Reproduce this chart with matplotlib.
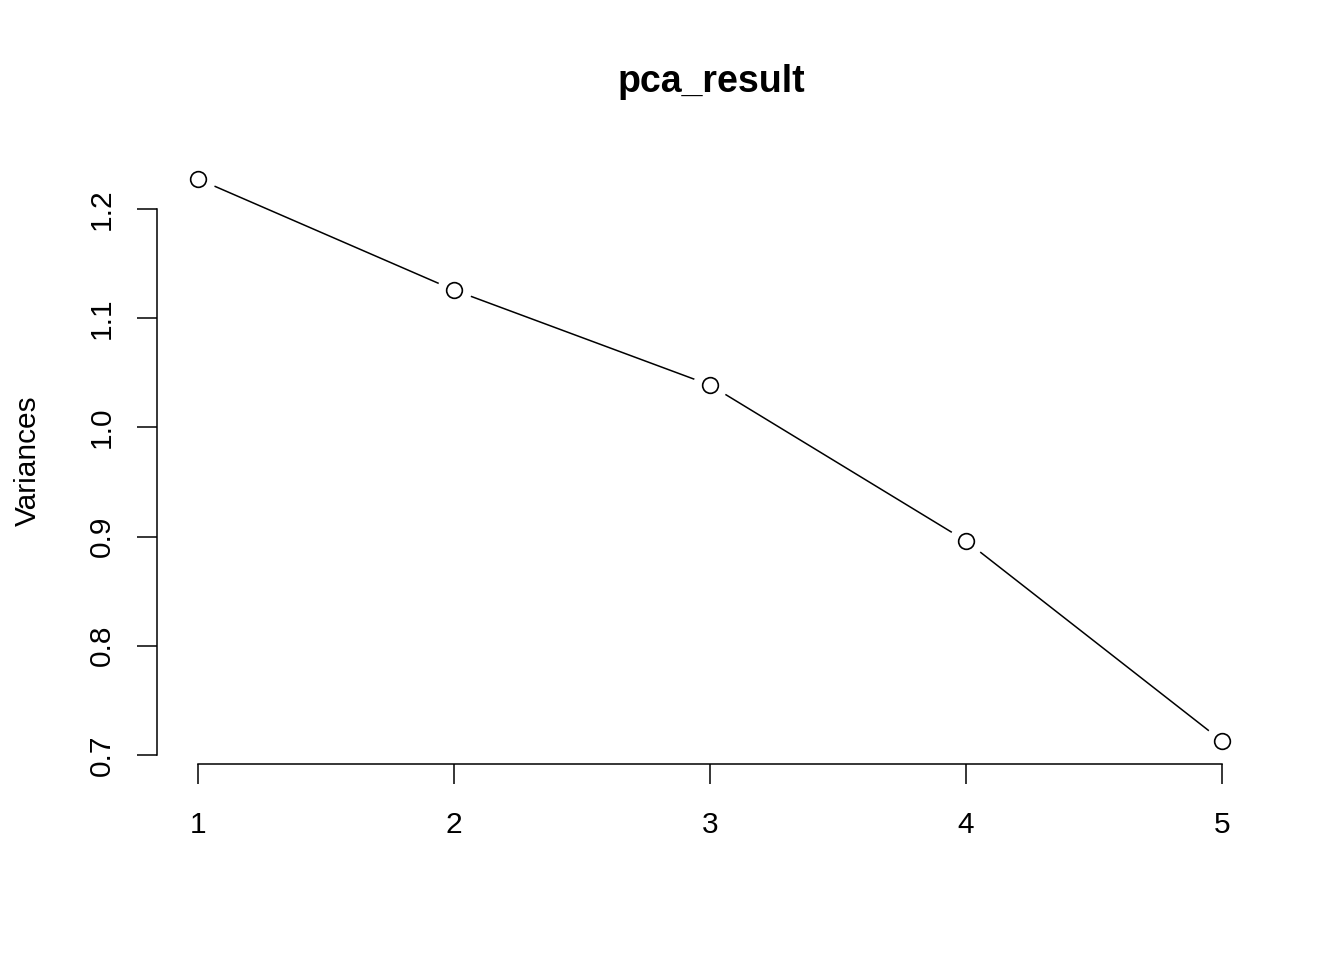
import matplotlib
matplotlib.use("Agg")
import matplotlib.pyplot as plt

components = [1, 2, 3, 4, 5]
variances = [1.2275, 1.1258, 1.0388, 0.8960, 0.7128]
yticks = [0.7, 0.8, 0.9, 1.0, 1.1, 1.2]
ytick_labels = ["0.7", "0.8", "0.9", "1.0", "1.1", "1.2"]
title = "pca_result"
ylabel = "Variances"

plt.rcParams['font.family'] = ['Liberation Sans', 'DejaVu Sans']

fig = plt.figure(figsize=(13.44, 9.6), dpi=100)
ax = fig.add_axes([157/1344, 1-763.5/960, (1263-157)/1344, (763.5-156.5)/960])

ax.plot(components, variances, color='black', lw=1.1, zorder=1)
ax.plot(components, variances, 'o', ms=24, mfc='white', mec='white', zorder=2)
ax.plot(components, variances, 'o', ms=11.3, mfc='white', mec='black', mew=1.2, zorder=3)

rng = max(variances) - min(variances)
ax.set_xlim(1 - 0.04*4, 5 + 0.04*4)
ax.set_ylim(min(variances) - 0.04*rng, max(variances) + 0.04*rng)

for s in ['top', 'right']:
    ax.spines[s].set_visible(False)
ax.spines['left'].set_bounds(0.7, 1.2)
ax.spines['bottom'].set_bounds(1, 5)
for s in ['left', 'bottom']:
    ax.spines[s].set_linewidth(1.1)

ax.set_xticks(components)
ax.set_xticklabels([str(c) for c in components])
ax.set_yticks(yticks)
ax.set_yticklabels(ytick_labels, rotation=90, va='center')
ax.tick_params(axis='both', direction='out', length=14.4, width=1.1, labelsize=21.5)
ax.tick_params(axis='x', pad=20)
ax.tick_params(axis='y', pad=15)

fig.text(711/1344, 1-92/960, title, ha='center', va='baseline', fontsize=27, fontweight='bold')
fig.text(28/1344, 1-461/960, ylabel, ha='center', va='center', rotation=90, fontsize=21.5)

fig.savefig("out.png", dpi=100)
